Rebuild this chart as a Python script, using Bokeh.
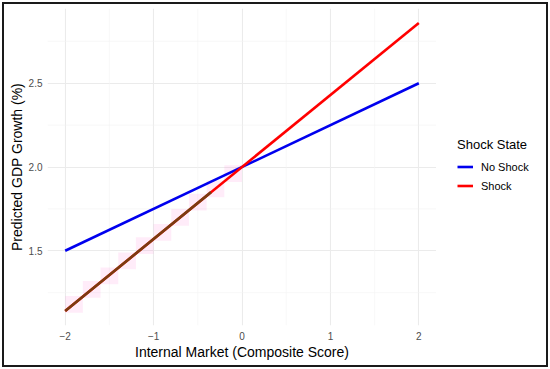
from bokeh.plotting import figure
from bokeh.layouts import row
from bokeh.models import Range1d, FixedTicker, Legend, LegendItem
from bokeh.embed import file_html
from bokeh.resources import INLINE

# data
x_vals = [-2, 2]
no_shock = [1.5, 2.5]
shock = [1.14, 2.86]
overlap_x = [-2, -0.35]
overlap_y = [1.14, 1.85]
cell_x = [-1.9, -1.7, -1.5, -1.3, -1.1, -0.9, -0.7, -0.5, -0.3, -0.1]
cell_y = [1.18, 1.27, 1.35, 1.44, 1.53, 1.61, 1.70, 1.79, 1.87, 1.96]
series_names = ["No Shock", "Shock"]
series_colors = ["#0000ee", "#ff0000"]

x_ticks = [-2, -1, 0, 1, 2]
x_tick_labels = ["\u22122", "\u22121", "0", "1", "2"]
y_ticks = [1.5, 2.0, 2.5]
y_tick_labels = ["1.5", "2.0", "2.5"]
x_minor = [-1.5, -0.5, 0.5, 1.5]
y_minor = [1.25, 1.75, 2.25, 2.75]

FONT = "Liberation Sans"
X0, X1 = -2.2, 2.2
Y0, Y1 = 1.054, 2.946

p = figure(width=436, height=369, output_backend="svg", toolbar_location=None,
           x_range=Range1d(X0, X1), y_range=Range1d(Y0, Y1),
           min_border_left=47, min_border_right=0, min_border_top=8, min_border_bottom=44)
p.outline_line_color = None
p.background_fill_color = None
p.border_fill_color = None

for xm in x_minor:
    p.line([xm, xm], [Y0, Y1], line_color="#f4f4f4", line_width=0.6)
for ym in y_minor:
    p.line([X0, X1], [ym, ym], line_color="#f4f4f4", line_width=0.6)

p.xaxis.ticker = FixedTicker(ticks=x_ticks)
p.yaxis.ticker = FixedTicker(ticks=y_ticks)
p.xaxis.major_label_overrides = dict(zip(x_ticks, x_tick_labels))
p.yaxis.major_label_overrides = dict(zip(y_ticks, y_tick_labels))
p.xgrid.grid_line_color = "#ebebeb"
p.ygrid.grid_line_color = "#ebebeb"
p.xgrid.grid_line_width = 1.1
p.ygrid.grid_line_width = 1.1

for ax in (p.xaxis, p.yaxis):
    ax.axis_line_color = None
    ax.major_tick_line_color = None
    ax.minor_tick_line_color = None
    ax.major_tick_out = 0
    ax.major_tick_in = 0
    ax.minor_tick_out = 0
    ax.major_label_text_font = FONT
    ax.major_label_text_font_size = "10px"
    ax.major_label_text_color = "#4d4d4d"
    ax.axis_label_text_font = FONT
    ax.axis_label_text_font_size = "14px"
    ax.axis_label_text_font_style = "normal"
    ax.axis_label_text_color = "black"
p.xaxis.axis_label = "Internal Market (Composite Score)"
p.yaxis.axis_label = "Predicted GDP Growth (%)"
p.xaxis.major_label_standoff = 6
p.yaxis.major_label_standoff = 5
p.xaxis.axis_label_standoff = 1
p.yaxis.axis_label_standoff = 1

p.rect(x=cell_x, y=cell_y, width=0.2, height=0.1, fill_color="#ff66cc", fill_alpha=0.12, line_color=None)

p.line(x_vals, no_shock, line_color=series_colors[0], line_width=2.6)
p.line(x_vals, shock, line_color=series_colors[1], line_width=2.6)
p.line(overlap_x, overlap_y, line_color="#7a3c10", line_width=2.6)

# legend panel (its lines lie outside its visible range, only the keys show)
q = figure(width=114, height=369, output_backend="svg", toolbar_location=None,
           x_range=Range1d(0, 1), y_range=Range1d(0, 1),
           x_axis_location=None, y_axis_location=None,
           min_border_left=0, min_border_right=0, min_border_top=0, min_border_bottom=0)
q.grid.visible = False
q.outline_line_color = None
q.background_fill_color = None
q.border_fill_color = None
items = []
for name, col, ys in zip(series_names, series_colors, [no_shock, shock]):
    r = q.line(x_vals, ys, line_color=col, line_width=2.6)
    items.append(LegendItem(label=name, renderers=[r]))

legend = Legend(items=items, location=(21, 131), title="Shock State")
legend.title_text_font = FONT
legend.title_text_font_size = "13px"
legend.title_text_font_style = "normal"
legend.title_text_color = "black"
legend.label_text_font = FONT
legend.label_text_font_size = "11px"
legend.label_text_color = "black"
legend.glyph_width = 16
legend.glyph_height = 17
legend.label_standoff = 8
legend.spacing = 2
legend.padding = 0
legend.margin = 0
legend.border_line_color = None
legend.background_fill_alpha = 0
legend.title_standoff = 6
q.add_layout(legend, "center")

layout = row(p, q)
layout.styles = {"background-color": "white", "outline": "2px solid #1a1a1a", "outline-offset": "-4px"}

open("out.html", "w").write(file_html(layout, INLINE))
